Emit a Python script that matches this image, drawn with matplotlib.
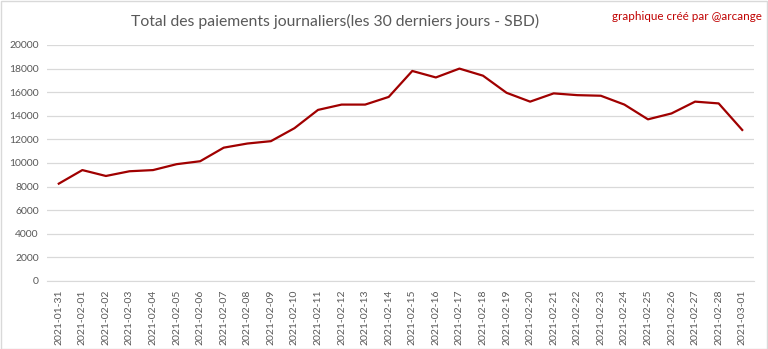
import matplotlib
matplotlib.use("Agg")
import matplotlib.pyplot as plt
from matplotlib.patches import Rectangle

# daily payouts, last 30 days (SBD)
dates = ["2021-01-31", "2021-02-01", "2021-02-02", "2021-02-03", "2021-02-04",
         "2021-02-05", "2021-02-06", "2021-02-07", "2021-02-08", "2021-02-09",
         "2021-02-10", "2021-02-11", "2021-02-12", "2021-02-13", "2021-02-14",
         "2021-02-15", "2021-02-16", "2021-02-17", "2021-02-18", "2021-02-19",
         "2021-02-20", "2021-02-21", "2021-02-22", "2021-02-23", "2021-02-24",
         "2021-02-25", "2021-02-26", "2021-02-27", "2021-02-28", "2021-03-01"]
payouts = [8250, 9400, 8900, 9300, 9400, 9900, 10150, 11300, 11650, 11850,
           12950, 14500, 14950, 14950, 15600, 17800, 17250, 18000, 17400, 15950,
           15200, 15900, 15750, 15700, 14950, 13700, 14200, 15200, 15050, 12800]
yticks = list(range(0, 20001, 2000))

plt.rcParams['font.family'] = ['Lato', 'DejaVu Sans']

W, H = 768, 349
fig = plt.figure(figsize=(W / 100, H / 100), dpi=100)
ax = fig.add_axes([47 / W, 1 - 281 / H, (754 - 47) / W, (281 - 45) / H])

x = list(range(len(dates)))
ax.plot(x, payouts, color="#a00000", linewidth=1.6, solid_joinstyle="round")

ax.set_xlim(-0.5, len(dates) - 0.5)
ax.set_ylim(0, 20000)
ax.set_yticks(yticks)
ax.set_yticklabels([str(v) for v in yticks], fontsize=7.5, color="#595959")
ax.set_xticks(x)
ax.set_xticklabels(dates, rotation=90, fontsize=7.5, color="#595959")
ax.tick_params(axis="both", length=0, pad=6)
ax.grid(axis="y", color="#d9d9d9", linewidth=0.9)
ax.set_axisbelow(True)
for side in ["top", "right", "left"]:
    ax.spines[side].set_visible(False)
ax.spines["bottom"].set_color("#d9d9d9")

fig.text(335 / W, 1 - 21 / H, "Total des paiements journaliers(les 30 derniers jours - SBD)",
         ha="center", va="center", fontsize=11.3, color="#595959")
fig.text(762 / W, 1 - 16 / H, "graphique créé par @arcange",
         ha="right", va="center", fontsize=8.4, color="#c00000")

# light chart border
fig.patches.append(Rectangle((0.5 / W, 0.5 / H), 1 - 1.5 / W, 1 - 1.5 / H,
                             transform=fig.transFigure, fill=False,
                             edgecolor="#d9d9d9", linewidth=1))

fig.savefig("out.png", dpi=100)
